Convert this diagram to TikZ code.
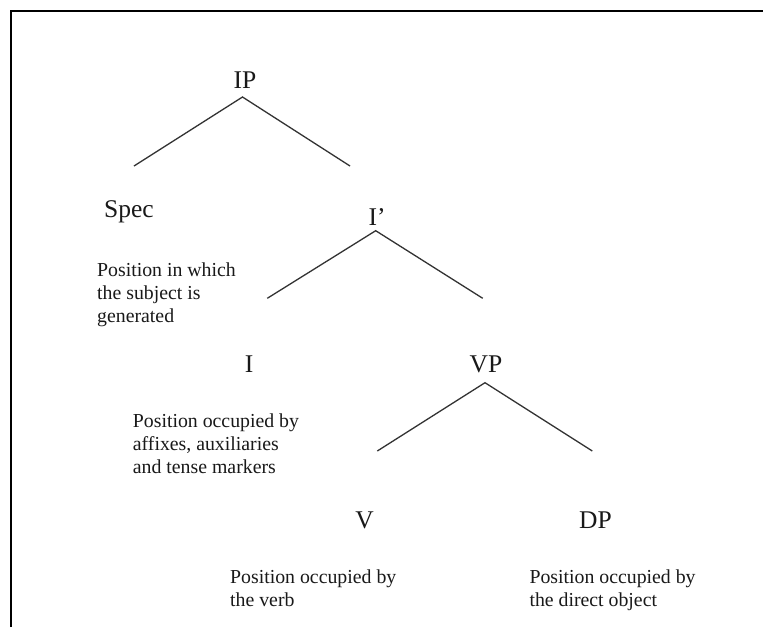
\documentclass[tikz,border=0pt]{standalone}
\usepackage{fontspec}
\setmainfont{Liberation Serif}
\begin{document}
\begin{tikzpicture}[x=1pt,y=-1pt,
  lab/.style={inner sep=0pt,anchor=base,font=\fontsize{25.5}{28}\selectfont,text=black!90},
  desc/.style={inner sep=0pt,anchor=base west,align=left,font=\fontsize{19.8}{23.2}\selectfont,text=black!90},
  branch/.style={line width=1.3pt,draw=black!80}]
\useasboundingbox (0,0) rectangle (763,627);
\fill[white] (0,0) rectangle (763,627);
\draw[line width=2pt] (11,627) -- (11,11) -- (763,11);
% labels
\node[lab] (IP) at (245,88) {IP};
\node[lab] (Spec) at (129,217) {Spec};
\node[lab] (Ib) at (377,225) {I’};
\node[lab] (I) at (249,372) {I};
\node[lab] (VP) at (486,372) {VP};
\node[lab] (V) at (364.5,528) {V};
\node[lab] (DP) at (595.5,528) {DP};
% descriptions (base anchor = baseline of the last line)
\node[desc] (dSpec) at (97,322.6) {Position in which\\the subject is\\generated};
\node[desc] (dI) at (132.7,473.7) {Position occupied by\\affixes, auxiliaries\\and tense markers};
\node[desc] (dV) at (230,606.4) {Position occupied by\\the verb};
\node[desc] (dDP) at (529.3,606.4) {Position occupied by\\the direct object};
% branch points
\coordinate (IPa) at (242.5,97);
\coordinate (IPl) at (134,166);
\coordinate (IPr) at (350,166);
\coordinate (Iba) at (375.7,230.7);
\coordinate (Ibl) at (267.3,298.3);
\coordinate (Ibr) at (482.7,298.3);
\coordinate (VPa) at (485,382.7);
\coordinate (VPl) at (377.3,451);
\coordinate (VPr) at (592.3,451);
\draw[branch] (IPl) -- (IPa) -- (IPr);
\draw[branch] (Ibl) -- (Iba) -- (Ibr);
\draw[branch] (VPl) -- (VPa) -- (VPr);
\end{tikzpicture}
\end{document}
